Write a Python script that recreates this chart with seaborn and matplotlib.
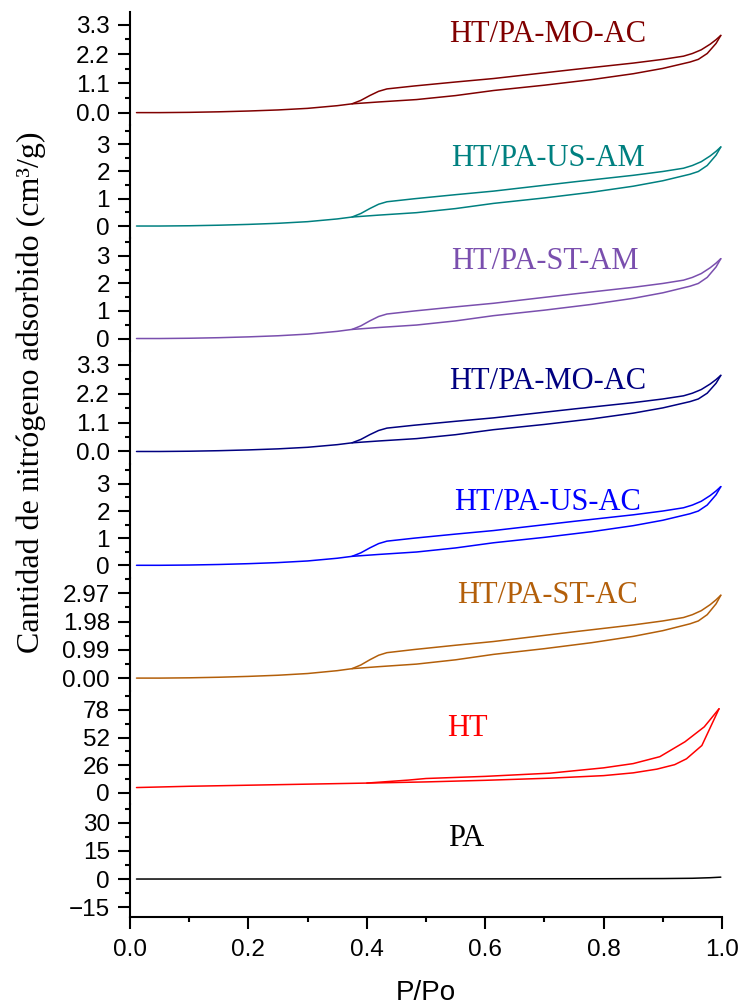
import matplotlib
matplotlib.use("Agg")
import matplotlib.pyplot as plt
import seaborn as sns
import pandas as pd

sns.set_theme(style="ticks")
plt.rcParams["font.family"] = ["Liberation Sans", "DejaVu Sans"]
plt.rcParams["axes.unicode_minus"] = True
plt.rcParams.update({"text.color": "black", "axes.labelcolor": "black",
                     "axes.edgecolor": "black", "xtick.color": "black",
                     "ytick.color": "black"})

# Sample names, top panel to bottom panel
samples = ["HT/PA-MO-AC", "HT/PA-US-AM", "HT/PA-ST-AM", "HT/PA-MO-AC",
           "HT/PA-US-AC", "HT/PA-ST-AC", "HT", "PA"]
colors = ["#800000", "#008080", "#7A4FAE", "#000080",
          "#0000FF", "#B35F0A", "#FF0000", "#000000"]

# N2 isotherm of the HT/PA composites (adsorption and desorption branches)
comp_ads_p = [0.011, 0.05, 0.10, 0.15, 0.20, 0.25, 0.30, 0.35, 0.375, 0.42,
              0.484, 0.55, 0.614, 0.70, 0.78, 0.85, 0.90, 0.946, 0.96, 0.975,
              0.99, 0.998]
comp_ads_v = [0.00, 0.00, 0.01, 0.03, 0.06, 0.10, 0.16, 0.26, 0.33, 0.40,
              0.49, 0.64, 0.83, 1.03, 1.24, 1.46, 1.66, 1.90, 2.00, 2.22,
              2.60, 2.90]
comp_des_p = [0.998, 0.99, 0.98, 0.965, 0.95, 0.935, 0.90, 0.85, 0.75, 0.614,
              0.55, 0.48, 0.434, 0.42, 0.405, 0.39, 0.375]
comp_des_v = [2.90, 2.74, 2.57, 2.36, 2.22, 2.12, 2.00, 1.86, 1.62, 1.28,
              1.15, 1.00, 0.89, 0.80, 0.64, 0.46, 0.33]

# Hydrotalcite (HT)
ht_ads_p = [0.011, 0.10, 0.20, 0.30, 0.40, 0.50, 0.60, 0.709, 0.80, 0.85,
            0.89, 0.92, 0.94, 0.966, 0.995]
ht_ads_v = [5.0, 6.2, 7.2, 8.2, 9.2, 10.3, 11.8, 13.8, 16.2, 18.8,
            22.3, 26.5, 32.0, 44.5, 79.0]
ht_des_p = [0.995, 0.97, 0.9375, 0.895, 0.85, 0.80, 0.709, 0.60, 0.50, 0.47, 0.40]
ht_des_v = [79.0, 62.0, 48.0, 34.0, 27.5, 23.5, 18.5, 15.5, 13.5, 12.0, 9.2]

# Palm material (PA)
pa_p = [0.011, 0.20, 0.40, 0.60, 0.80, 0.90, 0.95, 0.98, 0.998]
pa_v = [0.00, 0.02, 0.05, 0.08, 0.15, 0.25, 0.40, 0.70, 1.00]

# Axis settings per panel
ylims = [(-0.46, 3.79), (-0.44, 3.71), (-0.46, 3.65), (-0.49, 3.82),
         (-0.45, 3.72), (-0.44, 3.52), (-10.3, 96.0), (-20.2, 40.0)]
yticks = [[0.0, 1.1, 2.2, 3.3], [0, 1, 2, 3], [0, 1, 2, 3], [0.0, 1.1, 2.2, 3.3],
          [0, 1, 2, 3], [0.0, 0.99, 1.98, 2.97], [0, 26, 52, 78], [-15, 0, 15, 30]]
yticklabels = [["0.0", "1.1", "2.2", "3.3"], ["0", "1", "2", "3"], ["0", "1", "2", "3"],
               ["0.0", "1.1", "2.2", "3.3"], ["0", "1", "2", "3"],
               ["0.00", "0.99", "1.98", "2.97"], ["0", "26", "52", "78"],
               ["\u221215", "0", "15", "30"]]
label_pos = [(0.706, 0.80), (0.706, 0.70), (0.70, 0.79), (0.706, 0.73),
             (0.706, 0.665), (0.706, 0.845), (0.57, 0.67), (0.568, 0.69)]
xticks = [0.0, 0.2, 0.4, 0.6, 0.8, 1.0]
xticklabels = ["0.0", "0.2", "0.4", "0.6", "0.8", "1.0"]

curves = []
for i in range(6):
    curves.append([(comp_ads_p, comp_ads_v), (comp_des_p, comp_des_v)])
curves.append([(ht_ads_p, ht_ads_v), (ht_des_p, ht_des_v)])
curves.append([(pa_p, pa_v)])

fig = plt.figure(figsize=(7.43, 10.05), dpi=100)
left, right = 130 / 743, 722 / 743
top_px, bot_px = 11.7, 917.0
h_px = (bot_px - top_px) / 8

serif = ["Liberation Serif", "DejaVu Serif"]

for i in range(8):
    y0 = 1 - (top_px + (i + 1) * h_px) / 1005
    ax = fig.add_axes([left, y0, right - left, h_px / 1005])
    for branch_p, branch_v in curves[i]:
        df = pd.DataFrame({"p": branch_p, "v": branch_v})
        sns.lineplot(data=df, x="p", y="v", ax=ax, color=colors[i], lw=1.1,
                     estimator=None, sort=False)
    ax.set_xlim(0, 1.0)
    ax.set_ylim(*ylims[i])
    ax.set_yticks(yticks[i])
    ax.set_yticklabels(yticklabels[i])
    step = yticks[i][1] - yticks[i][0]
    minor = [t + step / 2 for t in [yticks[i][0] - step] + yticks[i]]
    ax.set_yticks([m for m in minor if ylims[i][0] <= m <= ylims[i][1]], minor=True)
    ax.set_xlabel("")
    ax.set_ylabel("")
    for s in ["top", "right"]:
        ax.spines[s].set_visible(False)
    ax.spines["left"].set_linewidth(1.5)
    ax.tick_params(axis="y", which="major", direction="out", length=8.5, width=1.5,
                   labelsize=17.5, pad=6)
    ax.tick_params(axis="y", which="minor", direction="out", length=3.7, width=1.5)
    ax.patch.set_alpha(0)
    ax.text(label_pos[i][0], label_pos[i][1], samples[i], transform=ax.transAxes,
            ha="center", va="center", color=colors[i], fontsize=22, family=serif)
    if i < 7:
        ax.spines["bottom"].set_visible(False)
        ax.tick_params(axis="x", which="both", bottom=False, labelbottom=False)
    else:
        ax.spines["bottom"].set_linewidth(1.5)
        ax.set_xticks(xticks)
        ax.set_xticklabels(xticklabels)
        ax.set_xticks([0.1, 0.3, 0.5, 0.7, 0.9], minor=True)
        ax.tick_params(axis="x", which="major", direction="out", length=8.5, width=1.5,
                       labelsize=17.5, pad=7)
        ax.tick_params(axis="x", which="minor", direction="out", length=3.7, width=1.5)
        ax.set_xlabel("P/Po", fontsize=20, labelpad=14)

fig.text(31 / 743, 1 - 392 / 1005, "Cantidad de nitrógeno adsorbido (cm³/g)",
         rotation=90, ha="center", va="center", fontsize=23, family=serif)

fig.savefig("out.png", dpi=100)
